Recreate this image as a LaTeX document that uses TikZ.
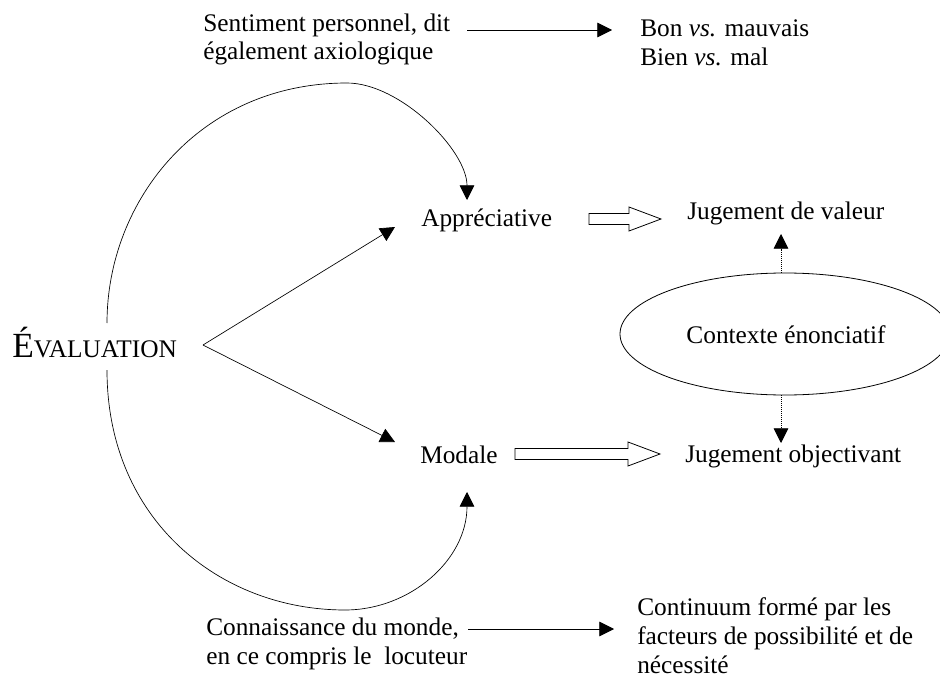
\documentclass[tikz,border=0pt]{standalone}
\usepackage{fontspec}
\setmainfont{Liberation Serif}
\usetikzlibrary{arrows.meta,shapes.geometric,calc}
\newcommand\blockarr[3]{%
  \draw[line width=0.6pt] (#1,#3-5.5) -- (#2-32,#3-5.5) -- (#2-32,#3-12) -- (#2,#3)
    -- (#2-32,#3+12) -- (#2-32,#3+5.5) -- (#1,#3+5.5) -- cycle;}
\begin{document}
\begin{tikzpicture}[x=0.75pt,y=-0.75pt,
  txt/.style={inner sep=0pt, anchor=base west, align=left,
    font=\fontsize{19}{21.5}\selectfont},
  arr/.style={-{Triangle[length=11pt,width=11pt]}, line width=0.5pt},
  darr/.style={arr, densely dotted},
  ell/.style={ellipse, draw, line width=0.6pt, minimum width=330*0.75pt,
    minimum height=122*0.75pt, inner sep=0pt}
]
\useasboundingbox (0,0) rectangle (940,678);

% texts (multi-line nodes: base = baseline of last line)
\node[txt] (sent) at (203,60) {Sentiment personnel, dit\\également axiologique};
\node[txt] (bon) at (640,65) {Bon \textit{vs.} mauvais\\Bien \textit{vs.} mal};
\node[txt] (eval) at (12,357) {\fontsize{26.5}{28}\selectfont É\fontsize{19}{21}\selectfont VALUATION};
\node[txt] (appr) at (421,226) {Appréciative};
\node[txt] (jval) at (687,219) {Jugement de valeur};
\node[ell] (ctx) at (785,334) {};
\node[txt, anchor=base] (ctxt) at (786,343) {Contexte énonciatif};
\node[txt] (modale) at (420,463) {Modale};
\node[txt] (jobj) at (685,462) {Jugement objectivant};
\node[txt] (conn) at (206,664) {Connaissance du monde,\\en ce compris le\ \ locuteur};
\node[txt] (cont) at (637,673) {Continuum formé par les\\facteurs de possibilité et de\\nécessité};

% coordinates
\coordinate (a1s) at (467,30);
\coordinate (a1e) at (612,30);
\coordinate (a2s) at (468,629);
\coordinate (a2e) at (614,629);
\coordinate (v) at (203,345);
\coordinate (tA) at (395,227);
\coordinate (tM) at (395,442);
\coordinate (ctop) at (107,323);
\coordinate (cbot) at (107,370);
\coordinate (tAp) at (467,200);
\coordinate (tMo) at (467,492);
\coordinate (pk1) at (347,83);
\coordinate (pk2) at (345,610);

% connectors
\draw[arr] (a1s) -- (a1e);
\draw[arr] (a2s) -- (a2e);
\draw[arr] (v) -- (tA);
\draw[arr] (v) -- (tM);
\draw[arr] (ctop) .. controls (107,200) and (200,83) .. (pk1)
  .. controls (400,83) and (467,150) .. (tAp);
\draw[arr] (cbot) .. controls (107,520) and (220,610) .. (pk2)
  .. controls (410,610) and (467,560) .. (tMo);
\draw[darr] (ctx.north -| 781,0) -- (781,234);
\draw[darr] (ctx.south -| 781,0) -- (781,443);

% hollow arrows
\blockarr{589}{661}{219}
\blockarr{515}{660}{454}
\end{tikzpicture}
\end{document}
